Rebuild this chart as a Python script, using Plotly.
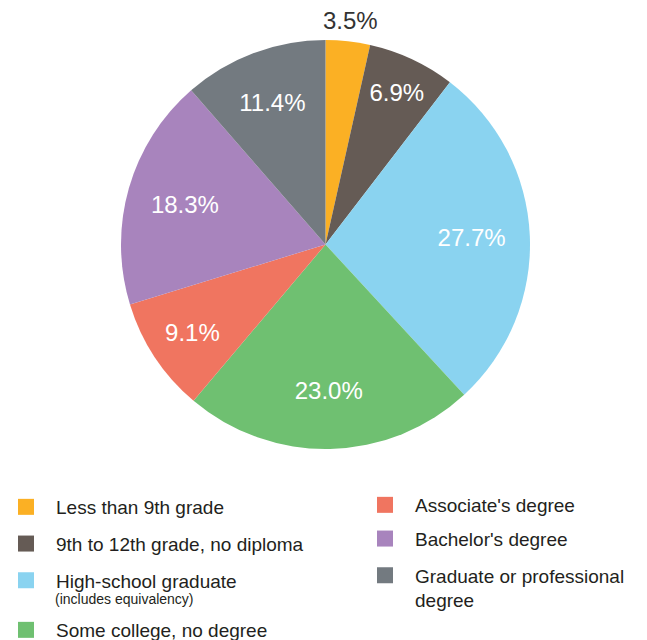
import math
import plotly.graph_objects as go

categories = [
    "Less than 9th grade",
    "9th to 12th grade, no diploma",
    "High-school graduate",
    "Some college, no degree",
    "Associate's degree",
    "Bachelor's degree",
    "Graduate or professional degree",
]
legend_labels = [
    "Less than 9th grade",
    "9th to 12th grade, no diploma",
    "High-school graduate",
    "Some college, no degree",
    "Associate's degree",
    "Bachelor's degree",
    "Graduate or professional<br>degree",
]
legend_note = "(includes equivalency)"
values = [3.5, 6.9, 27.7, 23.0, 9.1, 18.3, 11.4]
colors = ["#FBB024", "#655B55", "#8AD3F0", "#6FC071", "#F07560", "#A884BD", "#737A80"]
legend_column = ["legend", "legend", "legend", "legend3", "legend2", "legend2", "legend4"]

FONT = "Liberation Sans, Arial, Helvetica, sans-serif"
W, H = 647, 640

# pie geometry (px in figure)
px0, px1 = 113, 522
py0, py1 = 32, 441
dom = dict(x=[px0 / W, px1 / W], y=[1 - py1 / H, 1 - py0 / H])

texts = [f"{v:.1f}%" for v in values]
is_small = [v < 5 for v in values]
inside_texts = ["" if s else t for s, t in zip(is_small, texts)]

fig = go.Figure()
# coloured slices
fig.add_trace(go.Pie(
    labels=categories, values=values,
    textinfo="none",
    marker=dict(colors=colors, line=dict(width=0)),
    sort=False, direction="clockwise", rotation=0,
    showlegend=False, domain=dom,
    hoverinfo="label+percent",
))
# transparent ring carrying the in-slice labels
fig.add_trace(go.Pie(
    labels=categories, values=values,
    text=inside_texts, textinfo="text",
    textposition="inside", insidetextorientation="horizontal",
    textfont=dict(family=FONT, size=24, color="#FFFFFF"),
    marker=dict(colors=["rgba(0,0,0,0)"] * len(values), line=dict(width=0)),
    hole=0.43,
    sort=False, direction="clockwise", rotation=0,
    showlegend=False, domain=dom, hoverinfo="skip",
))

# outside label for small slices, at the slice's mid-angle
total = sum(values)
cx, cy, r = (px0 + px1) / 2, (py0 + py1) / 2, (px1 - px0) / 2
cum = 0.0
for v, t, s in zip(values, texts, is_small):
    mid = (cum + v / 2) / total * 2 * math.pi
    cum += v
    if s:
        rr = r * 1.1
        fig.add_annotation(
            x=(cx + rr * math.sin(mid)) / W, y=1 - (cy - rr * math.cos(mid)) / H,
            xref="paper", yref="paper", text=t, showarrow=False,
            xanchor="center", yanchor="middle",
            font=dict(family=FONT, size=24, color="#333333"),
        )

for lab, col, leg in zip(legend_labels, colors, legend_column):
    fig.add_trace(go.Scatter(
        x=[None], y=[None], mode="markers",
        marker=dict(symbol="square", size=16, color=col),
        name=lab, legend=leg, legendgroup=lab, showlegend=True,
    ))

legend_common = dict(
    font=dict(family=FONT, size=19, color="#231F20"),
    bgcolor="rgba(0,0,0,0)",
    borderwidth=0,
    yanchor="top",
    xanchor="left",
    itemwidth=50,
    traceorder="grouped",
    valign="top",
)

fig.add_annotation(
    x=45 / W, y=1 - 591 / H, xref="paper", yref="paper",
    text=legend_note, showarrow=False, xanchor="left", yanchor="middle",
    font=dict(family=FONT, size=14, color="#231F20"),
)

fig.update_layout(
    width=W, height=H,
    margin=dict(l=0, r=0, t=0, b=0, autoexpand=False),
    paper_bgcolor="white",
    plot_bgcolor="white",
    xaxis=dict(visible=False),
    yaxis=dict(visible=False),
    legend=dict(x=-12 / W, y=1 - 480 / H, tracegroupgap=9, **legend_common),
    legend3=dict(x=-12 / W, y=1 - 603 / H, tracegroupgap=9, **legend_common),
    legend2=dict(x=347 / W, y=1 - 478 / H, tracegroupgap=6, **legend_common),
    legend4=dict(x=347 / W, y=1 - 548.5 / H, tracegroupgap=6, **legend_common),
)

fig.write_html("out.html")
